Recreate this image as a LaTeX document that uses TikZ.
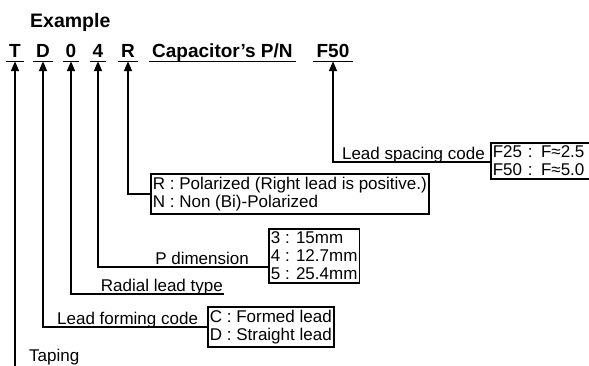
\documentclass[tikz,border=0pt]{standalone}
\usepackage{fontspec}
\setmainfont{Liberation Sans}
\usetikzlibrary{arrows.meta,positioning}
\tikzset{
  code/.style={font=\fontsize{19}{19}\selectfont\bfseries, anchor=base, text height=14pt, text depth=0pt, inner xsep=3pt, inner ysep=4pt},
  lbl/.style={font=\fontsize{17}{18}\selectfont, text depth=0pt, inner xsep=1pt, inner ysep=2pt},
  infobox/.style={draw, line width=1.7pt, align=left, font=\fontsize{17}{18}\selectfont, inner xsep=2pt, inner ysep=3pt},
  arr/.style={line width=1.7pt, -{Triangle[length=10pt,width=8pt]}}
}

\begin{document}
\begin{tikzpicture}[x=1pt, y=-1pt]
    \useasboundingbox (0,0) rectangle (589,365);

    \node (ex) at (27,27) [code, anchor=base west, font=\fontsize{19.5}{19.5}\selectfont\bfseries] {Example};

    \node (cT) at (15,57) [code] {T};
    \node (cD) at (43,57) [code] {D};
    \node (c0) at (71,57) [code] {0};
    \node (c4) at (98,57) [code] {4};
    \node (cR) at (128,57) [code] {R};
    \node (cPN) at (149,57) [code, anchor=base west] {Capacitor's P/N};
    \node (cF) at (333,57) [code] {F50};

    \foreach \n in {cT,cD,c0,c4,cR,cPN,cF}
        \draw[line width=1.4pt] (\n.south west) -- (\n.south east);

    \node (bxF) at (490,142) [infobox, anchor=north west, text width=110pt] {F25 : F≈2.5\\F50 : F≈5.0};
    \node (bxR) at (150,173) [infobox, anchor=north west] {R : Polarized (Right lead is positive.)\\N : Non (Bi)-Polarized};
    \node (bxP) at (268,228) [infobox, anchor=north west] {3 : 15mm\\4 : 12.7mm\\5 : 25.4mm};
    \node (bxC) at (207,306) [infobox, anchor=north west] {C : Formed lead\\D : Straight lead};

    \node (lsc) at (486,162) [lbl, anchor=south east] {Lead spacing code};
    \node (pdim) at (250,267) [lbl, anchor=south east] {P dimension};
    \node (rlt) at (224,294) [lbl, anchor=south east] {Radial lead type};
    \node (lfc) at (56,327) [lbl, anchor=south west] {Lead forming code};
    \node (tape) at (28,355) [lbl, anchor=west] {Taping};
    \coordinate (tapeEnd) at (cT.south |- 0,370);

    \draw[arr] (bxF.west |- lsc.south) -| (cF.south);
    \draw[arr] (bxR.west) -| (cR.south);
    \draw[arr] (bxP.west |- pdim.south) -| (c4.south);
    \draw[arr] (rlt.south east) -| (c0.south);
    \draw[arr] (bxC.west |- lfc.south) -| (cD.south);
    \draw[arr] (tapeEnd) -- (cT.south);
\end{tikzpicture}
\end{document}
